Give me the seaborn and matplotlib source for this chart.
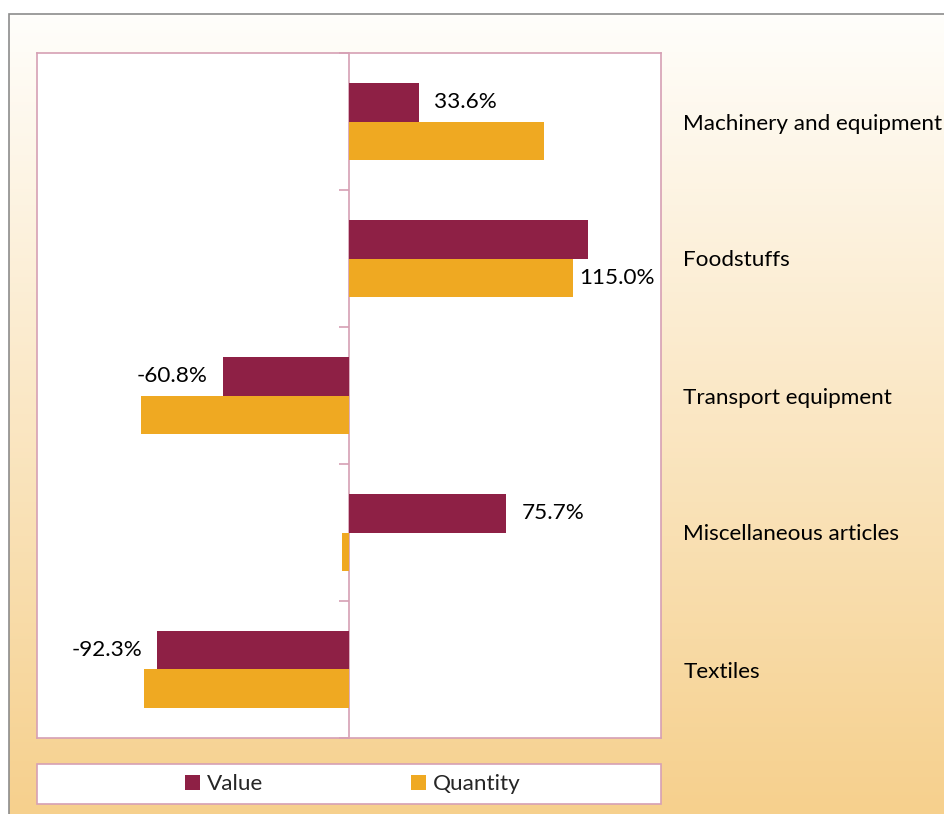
import numpy as np
import pandas as pd
import matplotlib.pyplot as plt
import matplotlib.colors as mcolors
from matplotlib.patches import Rectangle, Patch
import seaborn as sns

# data (% change)
categorias = ['Machinery and equipment', 'Foodstuffs', 'Transport equipment',
              'Miscellaneous articles', 'Textiles']
valor = [33.6, 115.0, -60.8, 75.7, -92.3]
quantidade = [93.8, 107.8, -100.1, -3.5, -98.5]
rotulos = ['33.6%', '115.0%', '-60.8%', '75.7%', '-92.3%']
# which bar each label sits next to (Excel put the Foodstuffs one lower)
ancora = ['Value', 'Quantity', 'Value', 'Value', 'Value']

cor_valor = '#8E2045'
cor_qtd = '#EFA922'
cor_borda = '#D6A0B4'

df = pd.DataFrame({
    'categoria': categorias * 2,
    'pct': valor + quantidade,
    'serie': ['Value'] * len(categorias) + ['Quantity'] * len(categorias),
})

sns.set_theme(style='white')
plt.rcParams['font.family'] = ['Lato', 'DejaVu Sans']
FS = 16.2

W, H = 944, 814
fig = plt.figure(figsize=(W / 100, H / 100), dpi=100)
fig.patch.set_facecolor('white')

# ----------------------------------------
# fundo com gradiente + moldura cinza
# ----------------------------------------
bg = fig.add_axes([0, 0, 1, 1], zorder=-10)
bg.set_xlim(0, 1)
bg.set_ylim(0, 1)
bg.axis('off')
cmap = mcolors.LinearSegmentedColormap.from_list('grad', ['#F6D08D', '#FFFEFB'])
grad = np.linspace(0, 1, 256).reshape(-1, 1)
x0 = 9 / W
y1 = 1 - 14 / H
bg.imshow(grad, cmap=cmap, aspect='auto', origin='lower',
          extent=(x0, 1.01, 0, y1), zorder=0)
bg.add_patch(Rectangle((x0, -0.05), 1.2, y1 + 0.05, fill=False,
                       edgecolor='#8C8C8C', linewidth=1.2, zorder=1))

# caixa da legenda
lx0, lx1 = 37 / W, 661 / W
ly0, ly1 = 1 - 804 / H, 1 - 764 / H
bg.add_patch(Rectangle((lx0, ly0), lx1 - lx0, ly1 - ly0, facecolor='white',
                       edgecolor=cor_borda, linewidth=1.2, zorder=2))

# ----------------------------------------
# gráfico principal
# ----------------------------------------
ax = fig.add_axes([37 / W, 1 - 738 / H, 624 / W, 685 / H])
ax.set_facecolor('white')
sns.barplot(data=df, x='pct', y='categoria', hue='serie',
            palette={'Value': cor_valor, 'Quantity': cor_qtd}, saturation=1,
            orient='h', width=0.56, legend=False, linewidth=0, ax=ax)

ax.set_xlim(-150, 150)
ax.set_ylim(len(categorias) - 0.5, -0.5)
ax.set_xlabel('')
ax.set_ylabel('')
ax.set_xticks([])

for s in ax.spines.values():
    s.set_visible(True)
    s.set_color(cor_borda)
    s.set_linewidth(1.2)

ax.yaxis.tick_right()
ax.tick_params(axis='y', which='major', length=0, pad=16, labelsize=FS,
               labelcolor='black', labelright=True, labelleft=False)

# eixo no zero com marcas nos limites das categorias
eixo0 = ax.secondary_yaxis(0.5)
for s in eixo0.spines.values():
    s.set_color(cor_borda)
    s.set_linewidth(1.2)
eixo0.set_yticks(np.arange(len(categorias) + 1) - 0.5)
eixo0.set_yticklabels([])
eixo0.tick_params(axis='y', length=7, width=1.2, color=cor_borda, direction='in')

# rótulos de dados
barras = {'Value': ax.containers[0], 'Quantity': ax.containers[1]}
for i, (txt, anc) in enumerate(zip(rotulos, ancora)):
    p = barras[anc][i]
    xb = p.get_x() + p.get_width()
    yb = p.get_y() + p.get_height() / 2
    if anc == 'Quantity':
        off, ha = 6, 'left'
    elif valor[i] >= 0:
        off, ha = 15, 'left'
    else:
        off, ha = -15, 'right'
    ax.annotate(txt, xy=(xb, yb), xytext=(off * 0.72, 0), textcoords='offset points',
                ha=ha, va='center', fontsize=FS, color='black')

# legenda
handles = [Patch(facecolor=cor_valor, edgecolor='none', label='Value'),
           Patch(facecolor=cor_qtd, edgecolor='none', label='Quantity')]
fig.legend(handles=handles, loc='center', ncol=2, frameon=False,
           bbox_to_anchor=((lx0 + lx1) / 2 + 0.004, (ly0 + ly1) / 2),
           fontsize=FS, handlelength=0.65, handleheight=0.65,
           handletextpad=0.3, columnspacing=6.6)

fig.savefig('out.png', dpi=100)
